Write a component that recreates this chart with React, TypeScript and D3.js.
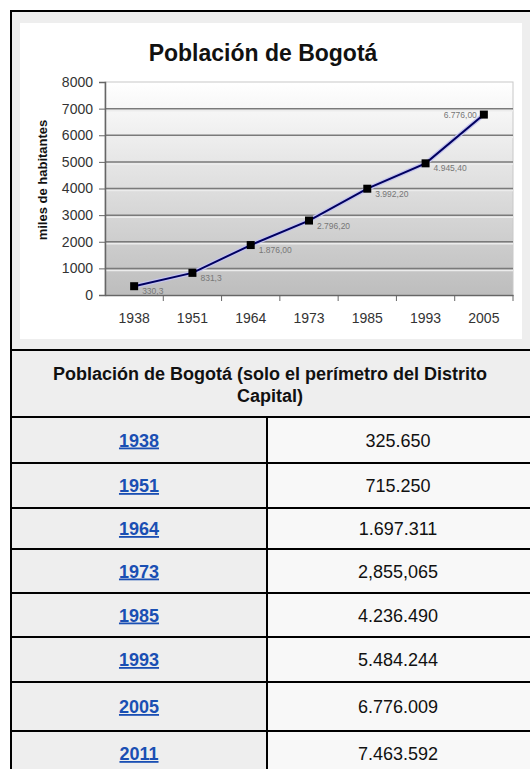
import React, { useRef, useEffect } from 'react';
import * as d3 from 'd3';

// chart data (miles de habitantes)
const years = ["1938", "1951", "1964", "1973", "1985", "1993", "2005"];
const population = [330.3, 831.3, 1876, 2796.2, 3992.2, 4945.4, 6776];
const pointLabels = ["330,3", "831,3", "1.876,00", "2.796,20", "3.992,20", "4.945,40", "6.776,00"];
const yTicks = [0, 1000, 2000, 3000, 4000, 5000, 6000, 7000, 8000];

// table data
const tableTitle = ["Población de Bogotá (solo el perímetro del Distrito", "Capital)"];
const tableYears = ["1938", "1951", "1964", "1973", "1985", "1993", "2005", "2011"];
const tableValues = ["325.650", "715.250", "1.697.311", "2,855,065", "4.236.490", "5.484.244", "6.776.009", "7.463.592"];

const FONT = "'Liberation Sans', Arial, sans-serif";

export default function App() {
  const svgRef = useRef<SVGSVGElement>(null);

  useEffect(() => {
    const svg = d3.select(svgRef.current);
    svg.selectAll("*").remove();
    svg.attr("width", 530).attr("height", 769).style("font-family", FONT);

    // ---- table frame ----
    const left = 11, mid = 267, right = 541;
    const rowLines = [417, 463, 508, 549, 593, 637, 682, 731, 776];

    svg.append("rect").attr("x", left).attr("y", 11).attr("width", right - left).attr("height", 406).attr("fill", "#eeeeee");
    svg.append("rect").attr("x", left).attr("y", 417).attr("width", mid - left).attr("height", 359).attr("fill", "#eeeeee");
    svg.append("rect").attr("x", mid).attr("y", 417).attr("width", right - mid).attr("height", 359).attr("fill", "#f8f8f8");

    // ---- chart image ----
    const chart = svg.append("g");
    chart.append("rect").attr("x", 20).attr("y", 23).attr("width", 502).attr("height", 316).attr("fill", "#ffffff");

    const defs = svg.append("defs");
    const grad = defs.append("linearGradient").attr("id", "plotBg").attr("x1", 0).attr("y1", 0).attr("x2", 0).attr("y2", 1);
    grad.append("stop").attr("offset", "0%").attr("stop-color", "#ffffff");
    grad.append("stop").attr("offset", "100%").attr("stop-color", "#bdbdbd");

    const xScale = d3.scaleBand().domain(years).range([105, 513]);
    const yScale = d3.scaleLinear().domain([0, 8000]).range([295, 82]);

    chart.append("rect")
      .attr("x", 105).attr("y", yScale(8000))
      .attr("width", 408).attr("height", yScale(0) - yScale(8000))
      .attr("fill", "url(#plotBg)")
      .attr("stroke", "#c8c8c8").attr("stroke-width", 1);

    // gridlines
    yTicks.filter(t => t > 0 && t < 8000).forEach(t => {
      chart.append("line")
        .attr("x1", 105).attr("x2", 513)
        .attr("y1", yScale(t) + 2).attr("y2", yScale(t) + 2)
        .attr("stroke", "#ececec").attr("stroke-width", 1.5);
      chart.append("line")
        .attr("x1", 105).attr("x2", 513)
        .attr("y1", yScale(t)).attr("y2", yScale(t))
        .attr("stroke", "#7a7a7a").attr("stroke-width", 1.5);
    });

    // y axis
    const yAxis = d3.axisLeft(yScale).tickValues(yTicks).tickSize(6).tickPadding(6).tickFormat(d3.format("d"));
    const gy = chart.append("g").attr("transform", "translate(105,0)").call(yAxis);
    gy.select(".domain").attr("stroke", "#666").attr("stroke-width", 1.5);
    gy.selectAll(".tick line").attr("stroke", "#666");
    gy.selectAll("text").attr("fill", "#333").style("font-size", "14px").style("font-family", FONT);

    // x axis
    const xAxis = d3.axisBottom(xScale).tickSize(0).tickPadding(18);
    const gx = chart.append("g").attr("transform", `translate(0,${yScale(0)})`).call(xAxis);
    gx.select(".domain").attr("stroke", "#666").attr("stroke-width", 1.5);
    gx.selectAll("text").attr("fill", "#333").style("font-size", "14px").style("font-family", FONT);
    // tick marks between categories
    years.forEach(y => {
      const x = (xScale(y) as number) + xScale.bandwidth();
      chart.append("line")
        .attr("x1", x).attr("x2", x)
        .attr("y1", yScale(0)).attr("y2", yScale(0) + 6)
        .attr("stroke", "#666").attr("stroke-width", 1);
    });

    // line
    const points = years.map((y, i) => [(xScale(y) as number) + xScale.bandwidth() / 2, yScale(population[i])] as [number, number]);
    const line = d3.line();
    chart.append("path").attr("d", line(points)).attr("fill", "none")
      .attr("stroke", "#c4c4ee").attr("stroke-width", 4.5);
    chart.append("path").attr("d", line(points)).attr("fill", "none")
      .attr("stroke", "#000060").attr("stroke-width", 2);

    // markers
    chart.selectAll(".marker").data(points).enter().append("rect")
      .attr("class", "marker")
      .attr("x", d => d[0] - 4).attr("y", d => d[1] - 4)
      .attr("width", 8).attr("height", 8)
      .attr("fill", "#000");

    // data labels
    chart.selectAll(".plabel").data(points).enter().append("text")
      .attr("class", "plabel")
      .attr("x", (d, i) => i === points.length - 1 ? d[0] - 7 : d[0] + 8)
      .attr("y", (d, i) => i === points.length - 1 ? d[1] + 3 : d[1] + 8)
      .attr("text-anchor", (d, i) => i === points.length - 1 ? "end" : "start")
      .attr("fill", "#777")
      .style("font-size", "8.5px")
      .text((d, i) => pointLabels[i]);

    // titles
    chart.append("text")
      .attr("x", 263).attr("y", 61)
      .attr("text-anchor", "middle")
      .attr("fill", "#111")
      .style("font-size", "23px").style("font-weight", "bold")
      .text("Población de Bogotá");

    chart.append("text")
      .attr("transform", `translate(47,180) rotate(-90)`)
      .attr("text-anchor", "middle")
      .attr("fill", "#111")
      .style("font-size", "13px").style("font-weight", "bold")
      .text("miles de habitantes");

    // ---- table lines ----
    const lines = svg.append("g").attr("stroke", "#000").attr("stroke-width", 2);
    [11, 350, ...rowLines.slice(0, -1)].forEach(y => {
      lines.append("line").attr("x1", left - 1).attr("x2", right).attr("y1", y).attr("y2", y);
    });
    lines.append("line").attr("x1", left).attr("x2", left).attr("y1", 10).attr("y2", 776);
    lines.append("line").attr("x1", mid).attr("x2", mid).attr("y1", 417).attr("y2", 776);

    // header
    tableTitle.forEach((t, i) => {
      svg.append("text")
        .attr("x", 270).attr("y", 380 + i * 22)
        .attr("text-anchor", "middle")
        .attr("fill", "#111")
        .style("font-size", "18px").style("font-weight", "bold")
        .text(t);
    });

    // rows
    tableYears.forEach((yr, i) => {
      const cy = (rowLines[i] + rowLines[i + 1]) / 2;
      svg.append("text")
        .attr("x", (left + mid) / 2).attr("y", cy + 6.5)
        .attr("text-anchor", "middle")
        .attr("fill", "#1a4fb3")
        .style("font-size", "18px").style("font-weight", "bold")
        .style("text-decoration", "underline")
        .text(yr);
      svg.append("text")
        .attr("x", 398).attr("y", cy + 6.5)
        .attr("text-anchor", "middle")
        .attr("fill", "#111")
        .style("font-size", "18px")
        .text(tableValues[i]);
    });
  }, []);

  return (
    <svg ref={svgRef} style={{ position: "absolute", left: 0, top: 0, display: "block" }}></svg>
  );
}
